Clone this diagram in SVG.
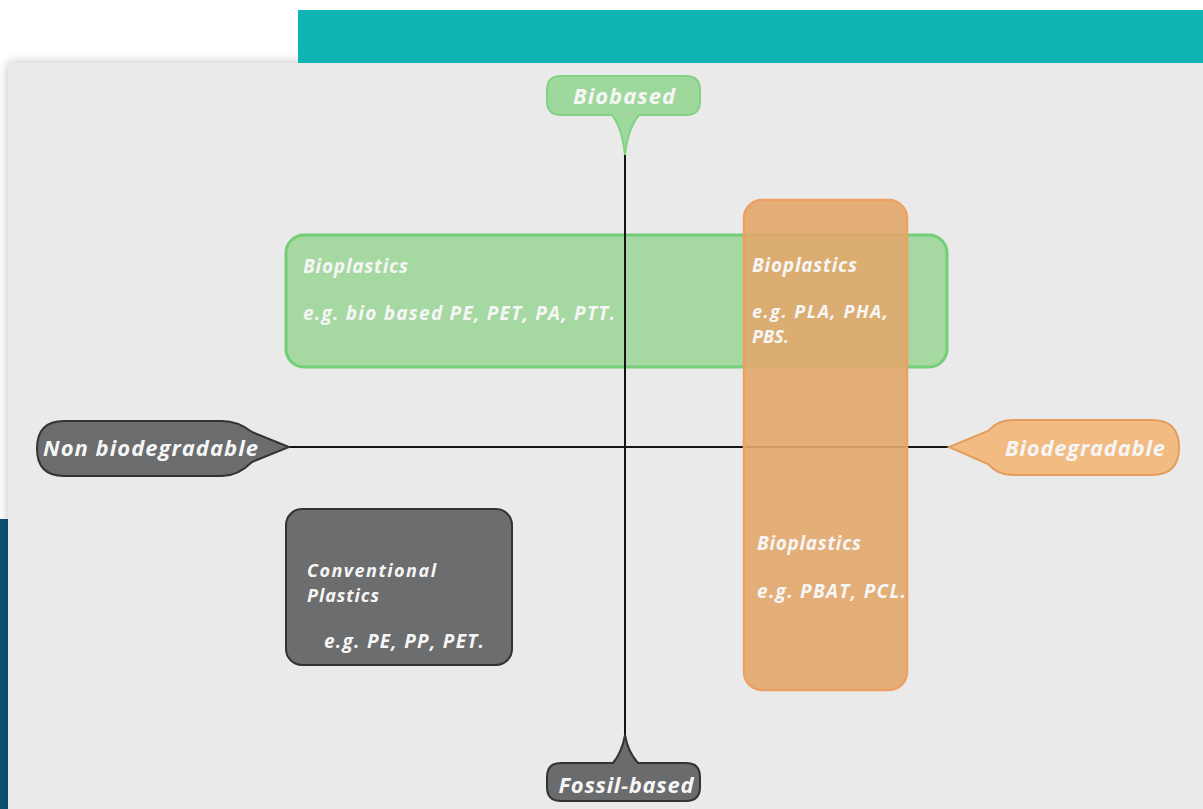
<svg xmlns="http://www.w3.org/2000/svg" width="1203" height="809" viewBox="0 0 1203 809">
  <defs>
    <filter id="shadow" x="-5%" y="-5%" width="110%" height="110%">
      <feGaussianBlur in="SourceAlpha" stdDeviation="6"/>
      <feOffset dx="0" dy="0"/>
      <feComponentTransfer><feFuncA type="linear" slope="0.25"/></feComponentTransfer>
      <feMerge><feMergeNode/><feMergeNode in="SourceGraphic"/></feMerge>
    </filter>
    <style>
      .lbl { font-family: "Open Sans", Lato, "Liberation Sans", sans-serif; font-weight: bold; font-style: italic; fill: #f6f6f6; }
      .big { font-size: 22px; }
      .box { font-size: 19px; }
      .two { font-size: 18px; }
      .axis { stroke: #151515; stroke-width: 2; fill: none; }
    </style>
  </defs>

  <rect x="0" y="0" width="1203" height="809" fill="#ffffff"/>
  <rect x="0" y="519" width="8" height="290" fill="#0e5177"/>
  <rect x="8" y="63" width="1200" height="760" fill="#eaeaea" filter="url(#shadow)"/>
  <rect x="298" y="10" width="905" height="53" fill="#0fb5b5"/>

  <g id="green-box">
    <rect x="286" y="235" width="661" height="132" rx="18" fill="#a6d9a2" stroke="#72cf78" stroke-width="3"/>
  </g>

  <g id="connectors">
    <line class="axis" x1="625" y1="152" x2="625" y2="738"/>
    <line class="axis" x1="286" y1="447" x2="950" y2="447"/>
  </g>

  <g id="orange-box">
    <rect x="744" y="200" width="163" height="490" rx="18" fill="#e2a76c" fill-opacity="0.9" stroke="#eea064" stroke-width="2.5"/>
  </g>

  <g id="gray-box">
    <rect x="286" y="509" width="226" height="156" rx="16" fill="#6c6d6e" stroke="#333333" stroke-width="2"/>
  </g>

  <g id="biobased">
    <path d="M561,76 H686 Q700,76 700,90 V101 Q700,115 686,115 H639 Q628,128 625,155 Q622,128 612,115 H561 Q547,115 547,101 V90 Q547,76 561,76 Z" fill="#9fd89d" stroke="#84d184" stroke-width="2"/>
    <text class="lbl big" x="624" y="104" text-anchor="middle" textLength="102" lengthAdjust="spacing">Biobased</text>
  </g>

  <g id="fossil-based">
    <path d="M561,763 H613 Q622,752 625,735 Q628,752 638,763 H686 Q700,763 700,777 V787 Q700,801 686,801 H561 Q547,801 547,787 V777 Q547,763 561,763 Z" fill="#6a6b6c" stroke="#333333" stroke-width="2"/>
    <text class="lbl big" x="626" y="793" text-anchor="middle" textLength="135" lengthAdjust="spacing">Fossil-based</text>
  </g>

  <g id="non-biodegradable">
    <path d="M64,421 H222 Q238,421 252,432 L289,447 L252,462 Q238,476 222,476 H64 Q37,476 37,448.5 Q37,421 64,421 Z" fill="#6b6c6d" stroke="#333333" stroke-width="2"/>
    <text class="lbl big" x="43" y="456" textLength="215" lengthAdjust="spacing">Non biodegradable</text>
  </g>

  <g id="biodegradable">
    <path d="M1152,420 Q1179,420 1179,447.5 Q1179,475 1152,475 H1012 Q998,475 988,464 L949,447 L988,431 Q998,420 1012,420 Z" fill="#f2bb82" stroke="#e29d5f" stroke-width="2"/>
    <text class="lbl big" x="1085" y="456" text-anchor="middle" textLength="160" lengthAdjust="spacing">Biodegradable</text>
  </g>

  <g id="green-text">
    <text class="lbl box" x="303" y="273" textLength="105" lengthAdjust="spacing">Bioplastics</text>
    <text class="lbl box" x="303" y="320" textLength="312" lengthAdjust="spacing">e.g. bio based PE, PET, PA, PTT.</text>
  </g>

  <g id="orange-top-text">
    <text class="lbl box" x="752" y="272" textLength="105" lengthAdjust="spacing">Bioplastics</text>
    <text class="lbl two" x="752" y="318" textLength="136" lengthAdjust="spacing">e.g. PLA, PHA,</text>
    <text class="lbl two" x="752" y="343">PBS.</text>
  </g>

  <g id="orange-bottom-text">
    <text class="lbl box" x="757" y="550" textLength="104" lengthAdjust="spacing">Bioplastics</text>
    <text class="lbl box" x="757" y="598" textLength="149" lengthAdjust="spacing">e.g. PBAT, PCL.</text>
  </g>

  <g id="gray-text">
    <text class="lbl two" x="307" y="577" textLength="129" lengthAdjust="spacing">Conventional</text>
    <text class="lbl two" x="307" y="602" textLength="72" lengthAdjust="spacing">Plastics</text>
    <text class="lbl box" x="324" y="648" textLength="160" lengthAdjust="spacing">e.g. PE, PP, PET.</text>
  </g>
</svg>
